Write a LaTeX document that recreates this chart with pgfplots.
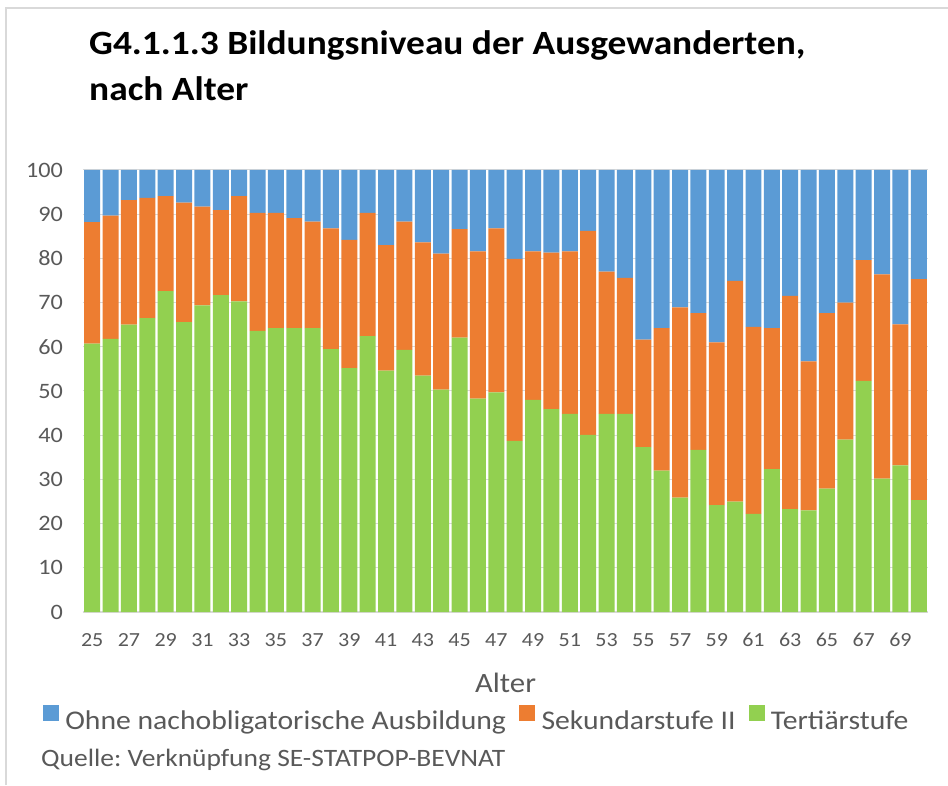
\documentclass[border=0pt]{standalone}
\usepackage{fontspec}
\setmainfont{Carlito}[FakeStretch=1.1]
\usepackage{pgfplots}
\pgfplotsset{compat=1.18}
\usepackage{pgfplotstable}
\definecolor{cblue}{HTML}{5B9BD5}
\definecolor{corange}{HTML}{ED7D31}
\definecolor{cgreen}{HTML}{92D050}
\definecolor{tgray}{HTML}{595959}
\definecolor{ggray}{HTML}{D9D9D9}
\frenchspacing

\pgfplotstableread{
age T S O
25 60.7 27.5 11.8
26 61.8 27.9 10.3
27 65.0 28.2 6.8
28 66.5 27.2 6.3
29 72.6 21.5 5.9
30 65.6 27.0 7.4
31 69.4 22.3 8.3
32 71.7 19.2 9.1
33 70.3 23.8 5.9
34 63.6 26.7 9.7
35 64.2 26.1 9.7
36 64.2 24.9 10.9
37 64.2 24.1 11.7
38 59.5 27.3 13.2
39 55.2 29.0 15.8
40 62.4 27.9 9.7
41 54.6 28.4 17.0
42 59.3 29.0 11.7
43 53.5 30.1 16.4
44 50.3 30.8 18.9
45 62.1 24.5 13.4
46 48.3 33.3 18.4
47 49.7 37.1 13.2
48 38.7 41.2 20.1
49 48.0 33.6 18.4
50 45.9 35.4 18.7
51 44.8 36.8 18.4
52 40.1 46.1 13.8
53 44.8 32.2 23.0
54 44.8 30.8 24.4
55 37.3 24.3 38.4
56 32.0 32.2 35.8
57 25.9 43.0 31.1
58 36.7 30.9 32.4
59 24.2 36.8 39.0
60 25.0 49.9 25.1
61 22.2 42.3 35.5
62 32.3 31.9 35.8
63 23.3 48.2 28.5
64 23.0 33.7 43.3
65 27.9 39.7 32.4
66 39.0 31.0 30.0
67 52.3 27.3 20.4
68 30.2 46.2 23.6
69 33.2 31.9 34.9
70 25.3 50.0 24.7
}\data

\begin{document}
\begin{tikzpicture}[x=1pt,y=1pt]
\useasboundingbox (0,0) rectangle (948,785);
\draw[ggray, line width=1.2pt] (6,0) -- (6,777) -- (948,777);
\node[anchor=base west, inner sep=0pt, font=\fontsize{34}{40}\selectfont\bfseries] at (89,730) {G4.1.1.3 Bildungsniveau der Ausgewanderten,};
\node[anchor=base west, inner sep=0pt, font=\fontsize{34}{40}\selectfont\bfseries] at (89,684) {nach Alter};
\node[anchor=base west, inner sep=0pt, font=\fontsize{25}{29}\selectfont, text=tgray] at (41,19) {Quelle: Verknüpfung SE-STATPOP-BEVNAT};
\begin{axis}[
  at={(83pt,173pt)}, anchor=south west,
  scale only axis, width=845pt, height=442pt,
  ybar stacked, bar width=0.87,
  xmin=24.5, xmax=70.5, ymin=0, ymax=100,
  enlarge x limits=false,
  xtick={25,27,...,69}, ytick={0,10,...,100},
  ymajorgrids, grid style={ggray, line width=1pt},
  axis x line=bottom, axis y line=left,
  axis line style={-},
  x axis line style={ggray, line width=1.2pt},
  y axis line style={draw=none},
  major tick length=0pt, tick style={draw=none},
  ticklabel style={inner sep=0pt, text=tgray},
  xticklabel style={font=\fontsize{20}{24}\selectfont, yshift=-21pt},
  yticklabel style={font=\fontsize{22}{26}\selectfont, xshift=-20pt},
  /pgf/number format/assume math mode=true,
  xlabel={Alter},
  xlabel style={at={(axis description cs:0.5,-0.1606)}, anchor=center, font=\fontsize{28}{32}\selectfont, text=tgray, inner sep=0pt},
  legend columns=3,
  legend style={at={(axis description cs:-0.0477,-0.2398)}, anchor=west, draw=none, fill=none, inner sep=0pt,
    font=\fontsize{27}{31}\selectfont, text=tgray,
    nodes={inner sep=0pt},
    /tikz/every odd column/.append style={column sep=7pt},
    /tikz/every even column/.append style={column sep=13pt}},
]
\addlegendimage{legend image code/.code={\fill[cblue] (0pt,0pt) rectangle (15pt,15pt);}}
\addlegendentry{Ohne nachobligatorische Ausbildung}
\addlegendimage{legend image code/.code={\fill[corange] (0pt,0pt) rectangle (15pt,15pt);}}
\addlegendentry{Sekundarstufe II}
\addlegendimage{legend image code/.code={\fill[cgreen] (0pt,0pt) rectangle (15pt,15pt);}}
\addlegendentry{Tertiärstufe}
\addplot[fill=cgreen, draw=none] table[x=age, y=T] {\data};
\addplot[fill=corange, draw=none] table[x=age, y=S] {\data};
\addplot[fill=cblue, draw=none] table[x=age, y=O] {\data};
\end{axis}
\end{tikzpicture}
\end{document}
